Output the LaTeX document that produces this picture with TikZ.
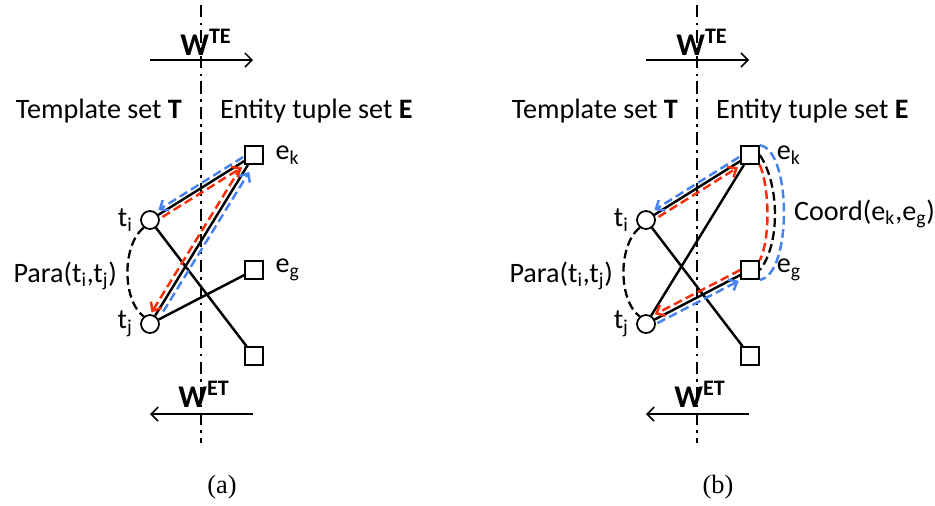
\documentclass[tikz,border=0pt]{standalone}
\usepackage{fontspec}
\setmainfont{Carlito}
\newfontfamily\capfont{Liberation Serif}
\usetikzlibrary{positioning,arrows.meta}
\definecolor{pathblue}{RGB}{70,130,235}
\definecolor{pathred}{RGB}{250,45,10}
\tikzset{
  tnode/.style={circle,draw,line width=1pt,fill=white,minimum size=0.36cm,inner sep=0pt},
  enode/.style={rectangle,draw,line width=0.9pt,fill=white,minimum size=0.36cm,inner sep=0pt},
  edge/.style={line width=1.4pt},
  setdiv/.style={line width=1.6pt,dash pattern=on 7pt off 3pt on 1.5pt off 3pt},
  para/.style={line width=1.3pt,dash pattern=on 5pt off 2.5pt},
  warrow/.style={line width=0.9pt,-{Straight Barb[length=4pt,width=8pt]}},
  redpath/.style={draw=pathred,line width=1.4pt,dash pattern=on 5pt off 2.5pt,-{Straight Barb[length=4pt,width=7pt]}},
  bluepath/.style={draw=pathblue,line width=1.4pt,dash pattern=on 5pt off 2.5pt,-{Straight Barb[length=4pt,width=7pt]}},
  lbl/.style={font=\fontsize{16}{19}\selectfont,inner sep=1pt},
  wlbl/.style={font=\fontsize{18}{21}\selectfont\bfseries,inner sep=0pt,anchor=base},
}
\begin{document}
\begin{tikzpicture}[x=0.02cm,y=-0.02cm]
\useasboundingbox (0,0) rectangle (935,505);
% both panels share the bipartite graph
\foreach \p/\dx/\gap in {a/0/5.5pt,b/496/8.5pt}{
\begin{scope}[shift={(\dx,0)},name prefix=\p-]
\coordinate (top) at (201,5);
\coordinate (bot) at (201,443);
\draw[setdiv] (top) -- (bot);
\node[wlbl] (wte) at (206,55) {W\textsuperscript{TE}};
\coordinate (wtes) at (150,60);
\coordinate (wtee) at (253,60);
\draw[warrow] (wtes) -- (wtee);
\node[wlbl] (wet) at (204,407) {W\textsuperscript{ET}};
\coordinate (wets) at (253,414);
\coordinate (wete) at (150,414);
\draw[warrow] (wets) -- (wete);
\node[lbl,anchor=base east] (tset) at (184,118) {Template set \textbf{T}};
\node[lbl,anchor=base west] (eset) at (218,118) {Entity tuple set \textbf{E}};
\node[tnode] (ti) at (150,220) {};
\node[tnode] (tj) at (150,324) {};
\node[enode] (ek) at (254,155) {};
\node[enode] (eg) at (254,270) {};
\node[enode] (el) at (254,356) {};
\node[lbl,left=3pt of ti] (til) {t\textsubscript{i}};
\node[lbl,left=3pt of tj] (tjl) {t\textsubscript{j}};
\node[lbl,right=\gap of ek] (ekl) {e\textsubscript{k}};
\node[lbl,right=\gap of eg] (egl) {e\textsubscript{g}};
\draw[edge] (ti) -- (ek);
\draw[edge] (ti) -- (el);
\draw[edge] (tj) -- (ek);
\draw[edge] (tj) -- (eg);
\draw[para] (ti.230) .. controls (122,245) and (122,300) .. (tj.130);
\node[lbl,anchor=base east] (paral) at (119,282) {Para(t\textsubscript{i},t\textsubscript{j})};
\node[font=\capfont\fontsize{15}{18}\selectfont,anchor=base] (cap) at (222,493) {(\p)};
\end{scope}}
% (a) meta path T-E-T
\draw[bluepath,shorten <=6pt,shorten >=7pt] ([shift={(-2,-3.5)}]a-ek.center) -- ([shift={(-2,-3.5)}]a-ti.center);
\draw[redpath,shorten <=7pt,shorten >=9.5pt] ([shift={(2,3.5)}]a-ti.center) -- ([shift={(2,3.5)}]a-ek.center);
\draw[redpath,shorten <=10pt,shorten >=6pt] ([shift={(-4,-2.6)}]a-ek.center) -- ([shift={(-4,-2.6)}]a-tj.center);
\draw[bluepath,shorten <=10pt,shorten >=9.5pt] ([shift={(4,2.6)}]a-tj.center) -- ([shift={(4,2.6)}]a-ek.center);
% (b) meta path through Coord
\draw[bluepath,shorten <=6pt,shorten >=7pt] ([shift={(-2,-3.5)}]b-ek.center) -- ([shift={(-2,-3.5)}]b-ti.center);
\draw[redpath,shorten <=7pt,shorten >=9.5pt] ([shift={(2,3.5)}]b-ti.center) -- ([shift={(2,3.5)}]b-ek.center);
\draw[redpath,shorten <=5pt,shorten >=7pt] ([shift={(-2,-4)}]b-eg.center) -- ([shift={(-2,-4)}]b-tj.center);
\draw[bluepath,shorten <=6pt,shorten >=8.5pt] ([shift={(2,4)}]b-tj.center) -- ([shift={(2,4)}]b-eg.center);
\draw[para] (b-ek.east) .. controls (780,185) and (780,245) .. (b-eg.east);
\draw[redpath,-] (b-ek.south east) .. controls (770,190) and (770,240) .. (b-eg.north east);
\draw[bluepath,-] (b-ek.north east) .. controls (792,150) and (792,275) .. (b-eg.south east);
\node[lbl,anchor=base west] (coordl) at (792,220) {Coord(e\textsubscript{k},e\textsubscript{g})};
\end{tikzpicture}
\end{document}
